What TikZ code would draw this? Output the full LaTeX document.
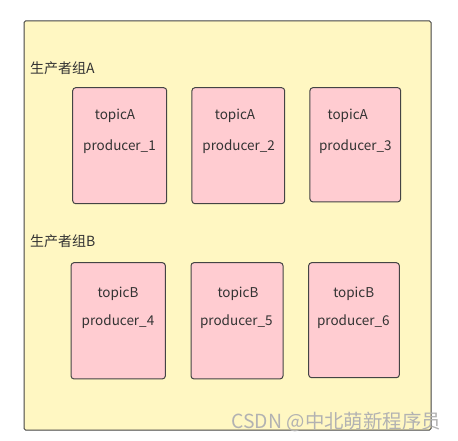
\documentclass[tikz,border=0pt]{standalone}
\usepackage{fontspec}
\setmainfont{Noto Sans CJK SC}
\usepackage{tikz}

\definecolor{groupfill}{HTML}{FFF7C2}
\definecolor{prodfill}{HTML}{FFCCD1}
\definecolor{edgegray}{HTML}{444444}
\definecolor{textgray}{HTML}{333333}

\tikzset{
  group/.style={draw=edgegray,fill=groupfill,line width=1pt,rounded corners=1.5pt},
  producer/.style={draw=edgegray,fill=prodfill,line width=1pt,rounded corners=3pt,
                   inner sep=0pt},
  txt/.style={text=textgray,font=\fontsize{13.5}{13.5}\selectfont,inner sep=0pt,anchor=center},
  grouplabel/.style={text=textgray,font=\fontsize{14}{14}\selectfont,inner sep=0pt,anchor=west}
}

\begin{document}
\begin{tikzpicture}[x=1pt,y=-1pt]
                              \useasboundingbox (0,0) rectangle (458,441);

                              % Outer group
                              \node[group,minimum width=407pt,minimum height=409pt] (outer) at (227.5,225.5) {};

                              % Group labels
                              \node[grouplabel] (labA) at (30,68) {生产者组A};
                              \node[grouplabel] (labB) at (30,241) {生产者组B};

                              % Producers of group A
                              \node[producer,minimum width=94pt,minimum height=116pt] (p1) at (119.7,145.7) {};
                              \node[producer,minimum width=92.7pt,minimum height=116pt] (p2) at (238.3,145.7) {};
                              \node[producer,minimum width=90.7pt,minimum height=114.3pt] (p3) at (355.3,144.8) {};

                              % Producers of group B
                              \node[producer,minimum width=94.3pt,minimum height=116.3pt] (p4) at (118.2,320.8) {};
                              \node[producer,minimum width=92pt,minimum height=116.3pt] (p5) at (237,320.8) {};
                              \node[producer,minimum width=90.7pt,minimum height=115pt] (p6) at (354,320.2) {};

                              % Texts
                              \node[txt] (t1) at (115,116.3) {topicA};
                              \node[txt] (n1) at (119.5,147) {producer\_1};
                              \node[txt] (t2) at (235,116.3) {topicA};
                              \node[txt] (n2) at (238.7,147) {producer\_2};
                              \node[txt] (t3) at (347.8,116.3) {topicA};
                              \node[txt] (n3) at (355.3,147) {producer\_3};

                              \node[txt] (t4) at (118,294.3) {topicB};
                              \node[txt] (n4) at (118,322) {producer\_4};
                              \node[txt] (t5) at (238,294.3) {topicB};
                              \node[txt] (n5) at (236.3,322) {producer\_5};
                              \node[txt] (t6) at (353.7,294.3) {topicB};
                              \node[txt] (n6) at (353.3,322) {producer\_6};

                              % Watermark
                              \node[text=black!30,font=\fontsize{19.4}{19.4}\selectfont,inner sep=0pt,anchor=east]
                                    (mark) at (441,421.7) {CSDN @中北萌新程序员};
                        \end{tikzpicture}
\end{document}
